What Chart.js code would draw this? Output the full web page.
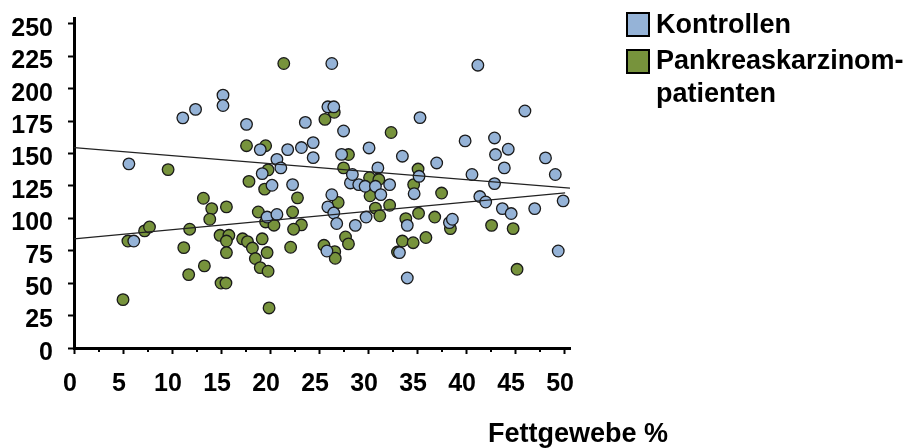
<!DOCTYPE html>
<html lang="de">
<head>
<meta charset="UTF-8">
<title>Fettgewebe %</title>
<script src="https://cdn.jsdelivr.net/npm/chart.js"></script>
<style>
  html, body { margin: 0; padding: 0; background: #fff; }
</style>
</head>
<body>
<canvas id="chart" width="907" height="448"></canvas>
<script>
// Fettgewebe % (x) gegen Messwert (y)
const kontrollenFett = [5.6, 6.1, 11.1, 12.4, 15.2, 15.2, 17.6, 19.0, 19.2, 19.7, 20.2, 20.7, 20.7, 21.1, 21.8, 22.3, 23.2, 23.6, 24.4, 24.4,
  25.8, 25.9, 25.9, 26.3, 26.5, 26.3, 26.5, 26.8, 27.3, 27.5, 28.2, 28.4, 28.7, 29.05, 29.7, 29.8, 30.1, 30.75, 31.0, 31.3,
  32.2, 33.2, 33.5, 34.0, 34.0, 34.7, 35.2, 35.3, 37.0, 38.3, 38.6, 39.9, 40.6, 41.2, 41.4, 42.0, 42.9, 42.9, 43.0, 43.7,
  43.9, 44.3, 44.6, 46.0, 47.0, 48.1, 49.1, 49.4, 49.9];
const kontrollenWert = [142, 82.5, 177.5, 184, 195, 187, 172.5, 153, 134.5, 101, 125.5, 145.5, 103, 138.9, 153, 126, 154.6, 174, 158.4, 146.8,
  74.8, 108.8, 186, 219.4, 186, 118.2, 104.1, 96, 149.3, 167.4, 127.3, 133.8, 94.6, 126, 124.7, 101, 154.3, 124.7, 138.9, 118.3,
  126, 73.6, 147.9, 94.6, 54, 119, 132.4, 177.7, 142.7, 96.7, 99.3, 159.7, 133.8, 218.1, 116.8, 112.6, 162, 126.8, 149.2, 107.5,
  138.9, 153.3, 103.7, 182.8, 107.5, 146.6, 133.8, 74.8, 113.5];

const patientenFett = [5.0, 5.5, 7.2, 7.7, 9.6, 11.2, 11.8, 11.7, 13.3, 13.2, 14.05, 13.85, 15.55, 14.9, 15.8, 15.55, 15.55, 15.0, 15.5, 17.2,
  17.7, 18.2, 18.5, 19.0, 19.8, 19.7, 19.2, 18.8, 19.55, 20.4, 19.9, 17.6, 19.55, 19.8, 17.85, 19.45, 21.4, 22.8, 22.3, 23.2,
  22.4, 22.1, 25.5, 25.6, 26.55, 26.6, 26.65, 26.95, 27.5, 27.7, 28.0, 28.0, 30.15, 31.1, 30.2, 30.75, 31.2, 32.2, 32.35, 33.0,
  33.5, 33.85, 34.6, 34.65, 35.1, 35.15, 35.9, 36.8, 37.5, 38.4, 42.6, 44.8, 45.2];
const patientenWert = [37.3, 82.5, 90.3, 93.3, 137.6, 77.4, 91.6, 56.6, 63.3, 115.5, 107.5, 99.3, 108.8, 86.9, 86.9, 82.5, 73.6, 50.1, 50.1, 84.2,
  82, 77.1, 69, 62, 59.2, 73.6, 84.2, 104.9, 97.2, 94.7, 30.9, 156, 156, 137.4, 128.5, 122.5, 219.4, 115.8, 104.9, 95,
  91.6, 77.7, 79.2, 176.3, 181.8, 74.3, 69.2, 112.2, 138.9, 85.6, 149.2, 80.3, 131.3, 129.9, 117.4, 107.9, 102, 110.1, 166.2, 74,
  82.5, 99.8, 81.2, 126, 138, 103.9, 85.2, 101, 119.5, 92.1, 94.6, 92.1, 60.7];

// Trendlinien (Anfang, Ende)
const trendKontrollen = [[0, 154.5], [50.6, 123.3]];
const trendPatienten = [[0, 84.2], [50.1, 119.6]];

const xTicks = [0, 5, 10, 15, 20, 25, 30, 35, 40, 45, 50];
const xMinorTicks = [2.5, 7.5, 12.5, 17.5, 22.5, 27.5, 32.5, 37.5, 42.5, 47.5];
const yTicks = [0, 25, 50, 75, 100, 125, 150, 175, 200, 225, 250];

const legendLabels = [['Kontrollen'], ['Pankreaskarzinom-', 'patienten']];
const xTitle = 'Fettgewebe %';

const blue = '#95B3D7';
const green = '#77933C';
const FONT = '"Liberation Sans", Arial, sans-serif';

function toPoints(xs, ys) {
  return xs.map((x, i) => ({ x: x, y: ys[i] }));
}
function pairs(p) {
  return p.map(d => ({ x: d[0], y: d[1] }));
}

// legend, axis title and the small ticks between the numbered ones
const extras = {
  id: 'extras',
  afterDraw(chart) {
    const ctx = chart.ctx;
    const xs = chart.scales.x;
    ctx.save();

    ctx.strokeStyle = '#000';
    ctx.lineWidth = 2;
    xMinorTicks.forEach(v => {
      const px = Math.round(xs.getPixelForValue(v));
      ctx.beginPath();
      ctx.moveTo(px, xs.top);
      ctx.lineTo(px, xs.top + 4);
      ctx.stroke();
    });

    ctx.fillStyle = '#000';
    ctx.font = 'bold 27px ' + FONT;
    ctx.textAlign = 'left';
    ctx.textBaseline = 'alphabetic';
    ctx.fillText(xTitle, 488, 442);

    const colors = [blue, green];
    const boxY = [13, 50];
    const textY = [[33], [69], [69, 102]];
    legendLabels.forEach((lines, i) => {
      ctx.fillStyle = colors[i];
      ctx.fillRect(627, boxY[i], 22, 23);
      ctx.strokeStyle = '#000';
      ctx.lineWidth = 2;
      ctx.strokeRect(627, boxY[i], 22, 23);
      ctx.fillStyle = '#000';
      lines.forEach((t, j) => ctx.fillText(t, 656, textY[i === 0 ? 0 : 2][j]));
    });
    ctx.restore();
  }
};

const ctx = document.getElementById('chart').getContext('2d');
new Chart(ctx, {
  type: 'scatter',
  data: {
    datasets: [
      {
        type: 'line',
        data: pairs(trendKontrollen),
        borderColor: '#222',
        borderWidth: 1.2,
        pointRadius: 0,
        fill: false
      },
      {
        type: 'line',
        data: pairs(trendPatienten),
        borderColor: '#222',
        borderWidth: 1.2,
        pointRadius: 0,
        fill: false
      },
      {
        label: 'Kontrollen',
        data: toPoints(kontrollenFett, kontrollenWert),
        backgroundColor: blue,
        borderColor: '#1a1a1a',
        borderWidth: 1.3,
        pointRadius: 5.8
      },
      {
        label: 'Pankreaskarzinompatienten',
        data: toPoints(patientenFett, patientenWert),
        backgroundColor: green,
        borderColor: '#1a1a1a',
        borderWidth: 1.3,
        pointRadius: 5.8
      }
    ]
  },
  options: {
    responsive: false,
    animation: false,
    devicePixelRatio: 1,
    layout: { padding: { top: 18, right: 337, bottom: 0, left: 0 } },
    plugins: {
      legend: { display: false },
      tooltip: { enabled: false }
    },
    scales: {
      x: {
        type: 'linear',
        min: 0,
        max: 50.6,
        afterFit: s => { s.height = 100; s.paddingLeft = 0; s.paddingRight = 0; },
        afterBuildTicks: s => { s.ticks = xTicks.map(v => ({ value: v })); },
        grid: { drawOnChartArea: false, drawTicks: true, tickLength: 6, tickWidth: 2, tickColor: '#000' },
        border: { display: true, color: '#000', width: 3 },
        ticks: {
          color: '#000',
          font: { family: FONT, size: 25, weight: 'bold' },
          padding: 15,
          labelOffset: -4,
          maxRotation: 0,
          autoSkip: false
        }
      },
      y: {
        type: 'linear',
        min: 0,
        max: 254.5,
        afterFit: s => { s.width = 74; s.paddingTop = 0; s.paddingBottom = 0; },
        afterBuildTicks: s => { s.ticks = yTicks.map(v => ({ value: v })); },
        grid: { drawOnChartArea: false, drawTicks: true, tickLength: 6, tickWidth: 2, tickColor: '#000' },
        border: { display: true, color: '#000', width: 3 },
        ticks: {
          color: '#000',
          font: { family: FONT, size: 25, weight: 'bold' },
          padding: 15,
          labelOffset: 5,
          autoSkip: false
        }
      }
    }
  },
  plugins: [extras]
});
</script>
</body>
</html>
